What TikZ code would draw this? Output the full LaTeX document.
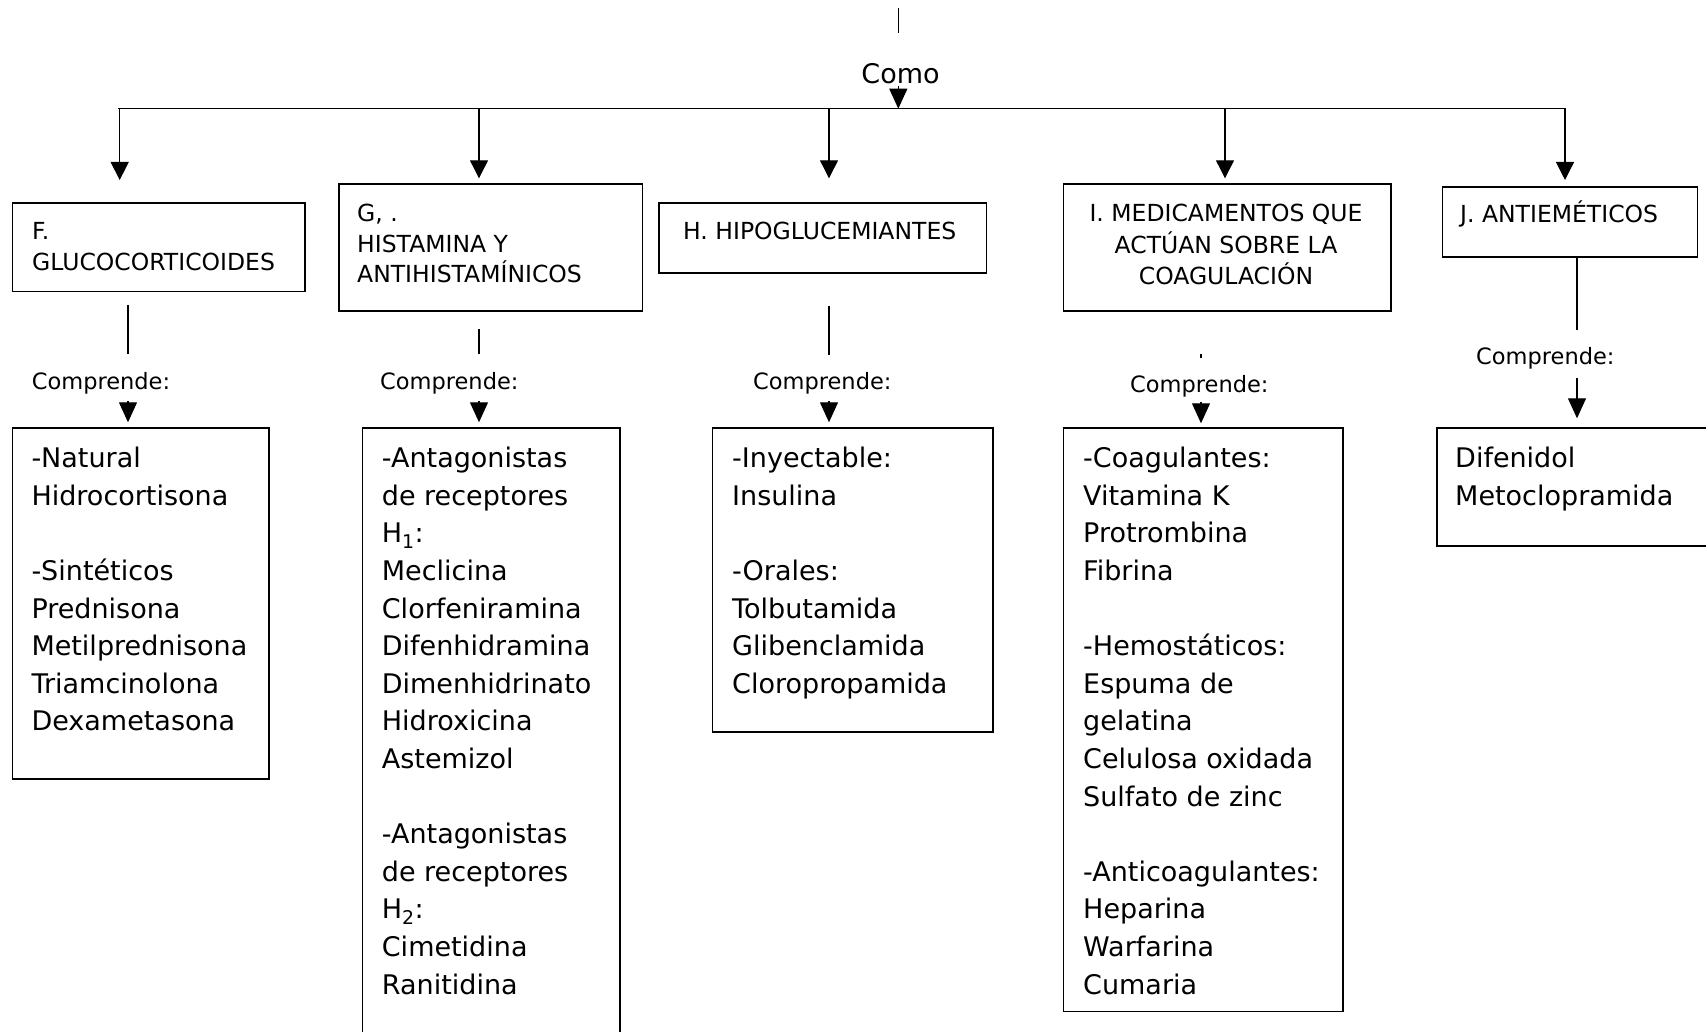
\documentclass[tikz,border=0pt]{standalone}
\usepackage{fontspec}
\setmainfont{DejaVu Sans}
\usetikzlibrary{arrows.meta}
\begin{document}
\begin{tikzpicture}[x=1pt,y=-1pt,
  box/.style={draw, line width=1.6pt, inner sep=0pt, anchor=north west},
  headtext/.style={font=\fontsize{23.5}{30.4}\selectfont, inner sep=0pt, align=left, anchor=north west},
  bodytext/.style={font=\fontsize{27}{37.6}\selectfont, inner sep=0pt, align=left, anchor=north west},
  small/.style={font=\fontsize{22.5}{30.4}\selectfont, inner sep=0pt, anchor=base west},
  link/.style={line width=1.2pt},
  bus/.style={line width=1.6pt},
  droparrow/.style={line width=1.2pt, -{Triangle[length=18pt,width=18pt]}},
  tiparrow/.style={line width=1.2pt, -{Triangle[length=20pt,width=18pt]}},
]
\useasboundingbox (0,0) rectangle (1706,1032);
\fill[white] (0,0) rectangle (1706,1032);
\clip (0,0) rectangle (1706,1032);

% ---- top stem, "Como" and the distribution bus
\coordinate (top1) at (898.3,8);
\coordinate (top2) at (898.3,33.3);
\draw[link] (top1) -- (top2);
\node[font=\fontsize{27}{37.6}\selectfont, inner sep=0pt, anchor=base] (como) at (900.5,83.3) {Como};
\coordinate (c0) at (898.3,86);
\coordinate (c1) at (898.3,108.7);
\draw[tiparrow] (c0) -- (c1);
\coordinate (busL) at (117.5,108.7);
\coordinate (busR) at (1566,108.7);
\draw[bus] (busL) -- (busR);

\foreach \n/\x/\t in {F/119.7/180, G/479/178.3, H/829/178.3, I/1225/178.3, J/1565/180}{
  \coordinate (d\n) at (\x,108.7);
  \coordinate (t\n) at (\x,\t);
  \draw[droparrow] (d\n) -- (t\n);
}

% ---- category boxes
\node[box, minimum width=292.3pt, minimum height=88.4pt] (hF) at (11.7,202.3) {};
\node[box, minimum width=303.4pt, minimum height=126.7pt] (hG) at (338.3,183.3) {};
\node[box, minimum width=327.5pt, minimum height=70.5pt] (hH) at (658.2,202) {};
\node[box, minimum width=327.3pt, minimum height=127pt] (hI) at (1062.7,183) {};
\node[box, minimum width=255pt, minimum height=70pt] (hJ) at (1441.7,186) {};

\node[headtext] (tF) at (32,218.3) {\strut F.\\GLUCOCORTICOIDES};
\node[headtext] (tG) at (357,200.3) {\strut G, .\\HISTAMINA Y\\ANTIHISTAMÍNICOS};
\node[headtext] (tH) at (683,218.3) {\strut H. HIPOGLUCEMIANTES};
\node[headtext, align=center, anchor=north] (tI) at (1226,200.3) {\strut I. MEDICAMENTOS QUE\\ACTÚAN SOBRE LA\\COAGULACIÓN};
\node[headtext] (tJ) at (1460,200.3) {\strut J. ANTIEMÉTICOS};

% ---- stems under the category boxes
\coordinate (sF0) at (128,305);   \coordinate (sF1) at (128,354);
\coordinate (sG0) at (479,329);   \coordinate (sG1) at (479,354);
\coordinate (sH0) at (829,306);   \coordinate (sH1) at (829,355);
\coordinate (sI0) at (1201,354.5);\coordinate (sI1) at (1201,358.5);
\coordinate (sJ0) at (1577,256);  \coordinate (sJ1) at (1577,330);
\foreach \n in {F,G,H,I,J}{ \draw[link] (s\n0) -- (s\n1); }

\node[small] (cF) at (31.7,389) {Comprende:};
\node[small] (cG) at (380,389) {Comprende:};
\node[small] (cH) at (753,389) {Comprende:};
\node[small] (cI) at (1130,392.5) {Comprende:};
\node[small] (cJ) at (1476,364) {Comprende:};

\coordinate (aF0) at (128,401);  \coordinate (aF1) at (128,422.3);
\coordinate (aG0) at (479,401);  \coordinate (aG1) at (479,422.3);
\coordinate (aH0) at (829,401);  \coordinate (aH1) at (829,422.3);
\coordinate (aI0) at (1201,402); \coordinate (aI1) at (1201,423.3);
\coordinate (aJ0) at (1577,378); \coordinate (aJ1) at (1577,418.3);
\foreach \n in {F,G,H,I,J}{ \draw[tiparrow] (a\n0) -- (a\n1); }

% ---- member lists
\node[box, minimum width=256.6pt, minimum height=351pt] (bF) at (11.7,427) {};
\node[box, minimum width=257.3pt, minimum height=640pt] (bG) at (361.7,427) {};
\node[box, minimum width=280.7pt, minimum height=304pt] (bH) at (711.6,427) {};
\node[box, minimum width=279.8pt, minimum height=583.5pt] (bI) at (1062.5,427) {};
\node[box, minimum width=290pt, minimum height=118pt] (bJ) at (1436,427) {};

\node[bodytext] (lF) at (31.3,441.2) {\strut-Natural\\Hidrocortisona\\[37.6pt]-Sintéticos\\Prednisona\\Metilprednisona\\Triamcinolona\\Dexametasona};
\node[bodytext] (lG) at (381.7,441.2) {\strut-Antagonistas\\de receptores\\H\textsubscript{1}:\\Meclicina\\Clorfeniramina\\Difenhidramina\\Dimenhidrinato\\Hidroxicina\\Astemizol\\[37.6pt]-Antagonistas\\de receptores\\H\textsubscript{2}:\\Cimetidina\\Ranitidina};
\node[bodytext] (lH) at (732,441.2) {\strut-Inyectable:\\Insulina\\[37.6pt]-Orales:\\Tolbutamida\\Glibenclamida\\Cloropropamida};
\node[bodytext] (lI) at (1083,441.2) {\strut-Coagulantes:\\Vitamina K\\Protrombina\\Fibrina\\[37.6pt]-Hemostáticos:\\Espuma de\\gelatina\\Celulosa oxidada\\Sulfato de zinc\\[37.6pt]-Anticoagulantes:\\Heparina\\Warfarina\\Cumaria};
\node[bodytext] (lJ) at (1455,441.2) {\strut Difenidol\\Metoclopramida};
\end{tikzpicture}
\end{document}
